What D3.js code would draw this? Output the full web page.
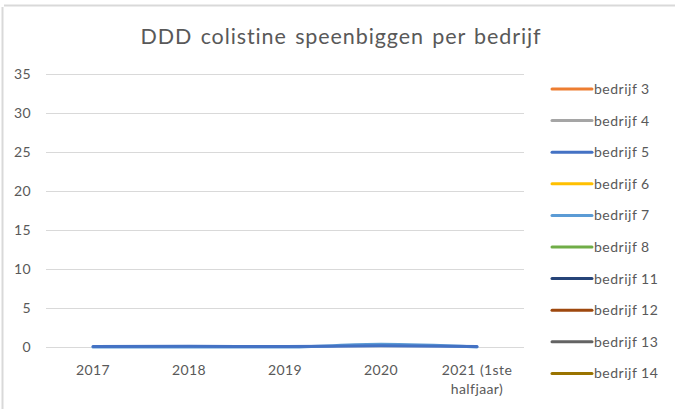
<!DOCTYPE html>
<html>
<head>
<meta charset="utf-8">
<script src="https://cdn.jsdelivr.net/npm/d3@7/dist/d3.min.js"></script>
<style>
  html, body { margin: 0; padding: 0; background: #fff; }
  svg { display: block; font-family: Lato, "Open Sans", sans-serif; }
</style>
</head>
<body>
<svg id="chart" width="675" height="409"></svg>
<script>
// Categories (periods) and tick values
const periods = ["2017", "2018", "2019", "2020", "2021 (1ste halfjaar)"];
const yTicks = [0, 5, 10, 15, 20, 25, 30, 35];

// Farms and their colours
const farms = ["bedrijf 3", "bedrijf 4", "bedrijf 5", "bedrijf 6", "bedrijf 7",
               "bedrijf 8", "bedrijf 11", "bedrijf 12", "bedrijf 13", "bedrijf 14"];
const farmColors = ["#ED7D31", "#A5A5A5", "#4472C4", "#FFC000", "#5B9BD5",
                    "#70AD47", "#264478", "#9E480E", "#636363", "#997300"];

// DDD colistine per farm and period (null = no value)
const bedrijf3  = [null, null, null, null, null];
const bedrijf4  = [null, null, null, null, null];
const bedrijf5  = [0.05, 0.1, 0.05, 0.15, 0.05];
const bedrijf6  = [null, null, null, null, null];
const bedrijf7  = [0, 0, 0, 0.35, 0];
const bedrijf8  = [null, null, null, null, null];
const bedrijf11 = [null, null, null, null, null];
const bedrijf12 = [null, null, null, null, null];
const bedrijf13 = [null, null, null, null, null];
const bedrijf14 = [null, null, null, null, null];

const seriesValues = [bedrijf3, bedrijf4, bedrijf5, bedrijf6, bedrijf7,
                      bedrijf8, bedrijf11, bedrijf12, bedrijf13, bedrijf14];

// Draw order: lighter bump series beneath the main blue line
const drawOrder = [0, 1, 3, 5, 6, 7, 8, 9, 4, 2];

const svg = d3.select("#chart");
const textColor = "#595959";
const font = "Lato, 'Open Sans', sans-serif";

// Outer frame
svg.append("line").attr("x1", 2.5).attr("x2", 2.5).attr("y1", 7).attr("y2", 409)
  .attr("stroke", "#d9d9d9").attr("stroke-width", 2);
svg.append("line").attr("x1", 4).attr("x2", 675).attr("y1", 5.5).attr("y2", 5.5)
  .attr("stroke", "#d9d9d9").attr("stroke-width", 2);

// Title
svg.append("text")
  .attr("x", 341).attr("y", 44)
  .attr("text-anchor", "middle")
  .attr("font-size", 21.5)
  .attr("letter-spacing", 0.9)
  .attr("word-spacing", 2)
  .attr("fill", textColor)
  .text("DDD colistine speenbiggen per bedrijf");

const plot = { left: 45, right: 525, top: 74, bottom: 347 };

const x = d3.scaleBand().domain(periods).range([plot.left, plot.right]);
const y = d3.scaleLinear().domain([0, 35]).range([plot.bottom, plot.top]);

// Gridlines
svg.append("g").selectAll("line").data(yTicks).join("line")
  .attr("x1", plot.left + 1).attr("x2", plot.right - 1)
  .attr("y1", d => Math.round(y(d)) + 0.5).attr("y2", d => Math.round(y(d)) + 0.5)
  .attr("stroke", "#d9d9d9").attr("stroke-width", 1);

// Y axis labels
const yAxis = d3.axisLeft(y).tickValues(yTicks).tickSize(0).tickPadding(0);
const gy = svg.append("g").attr("transform", `translate(${plot.left - 14},0)`).call(yAxis);
gy.select(".domain").remove();
gy.selectAll("text").attr("font-size", 14).attr("fill", textColor)
  .attr("letter-spacing", 0.4).attr("font-family", font);

// X axis labels (wrapped)
const xAxis = d3.axisBottom(x).tickSize(0).tickPadding(0).tickFormat("");
const gx = svg.append("g").attr("transform", `translate(0,${plot.bottom})`).call(xAxis);
gx.select(".domain").remove();
gx.selectAll(".tick").each(function(d) {
  const t = d3.select(this).append("text")
    .attr("text-anchor", "middle").attr("font-size", 14).attr("fill", textColor)
    .attr("letter-spacing", 0.4).attr("font-family", font);
  const lines = d === "2021 (1ste halfjaar)" ? ["2021 (1ste", "halfjaar)"] : [d];
  lines.forEach((s, i) => t.append("tspan").attr("x", 0).attr("y", 28 + i * 19).text(s));
});

// Lines
const line = d3.line()
  .defined(d => d != null)
  .x((d, i) => x(periods[i]) + x.bandwidth() / 2)
  .y(d => y(d))
  .curve(d3.curveMonotoneX);

svg.append("g").selectAll("path").data(drawOrder).join("path")
  .attr("d", k => line(seriesValues[k]))
  .attr("fill", "none")
  .attr("stroke", k => farmColors[k])
  .attr("stroke-width", 3)
  .attr("stroke-linecap", "round");

// Legend
const legend = svg.append("g").selectAll("g").data(farms).join("g")
  .attr("transform", (d, i) => `translate(552,${89 + i * 31.6})`);
legend.append("line").attr("x1", 0).attr("x2", 40).attr("y1", 0).attr("y2", 0)
  .attr("stroke", (d, i) => farmColors[i]).attr("stroke-width", 3).attr("stroke-linecap", "round");
legend.append("text").attr("x", 42).attr("y", 5)
  .attr("font-size", 14).attr("letter-spacing", 0.5).attr("fill", textColor)
  .text(d => d);
</script>
</body>
</html>
